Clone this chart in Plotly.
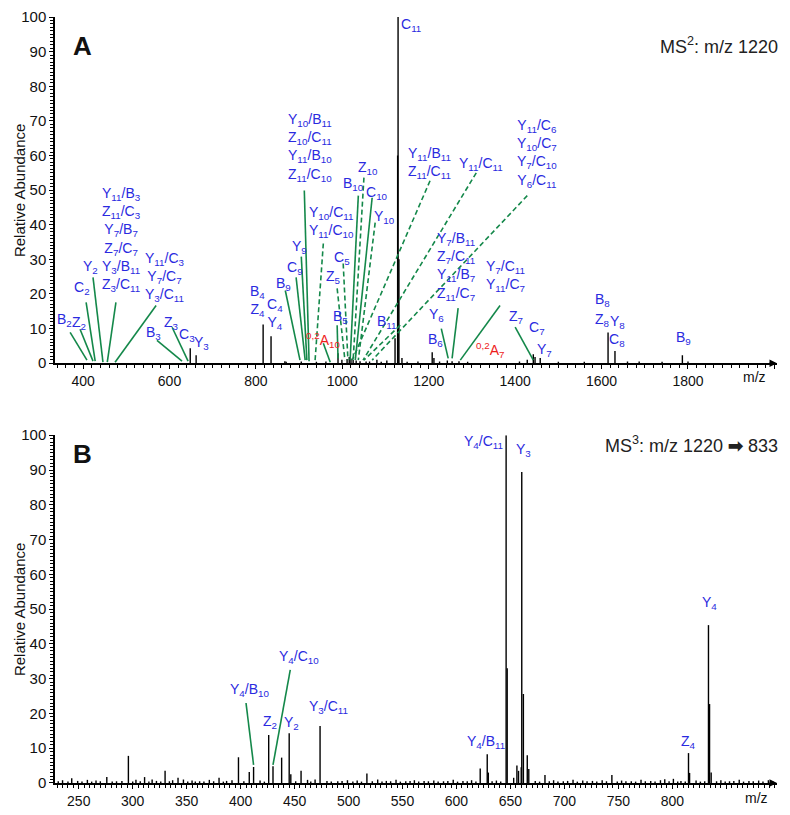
import plotly.graph_objects as go

# ---------------- data ----------------
# Panel A: MS2 of m/z 1220  (m/z, relative abundance)
ms2_mz = [648, 661.6, 816.7, 835, 867, 905, 990, 999, 1011, 1016, 1020, 1025, 1032, 1041, 1055,
          1080, 1103, 1122, 1128, 1129, 1131, 1138, 1208, 1212, 1243, 1254, 1270, 1428, 1442,
          1446, 1458, 1615, 1631, 1687, 1787, 1800]
ms2_int = [4.3, 2.3, 11.2, 7.8, 0.6, 0.5, 2.9, 1.0, 1.2, 1.8, 1.4, 1.0, 0.8, 0.6, 0.5,
           1.0, 0.8, 7.2, 60, 100, 30, 1.5, 3.2, 1.5, 0.8, 0.6, 0.6, 1.0, 2.6,
           1.8, 1.5, 8.9, 3.5, 0.5, 2.3, 0.5]

# Panel B: MS3 of m/z 1220 -> 833
ms3_mz = [243.5, 276, 296, 311, 318, 330, 342, 347, 380, 398, 408, 412, 426, 430, 438, 445,
          446.5, 456, 469, 473.6, 517, 527, 622, 628.5, 629.5, 646, 647, 653, 656, 657.5, 660,
          660.5, 662, 665.6, 667, 682, 744, 801, 815, 816, 833.5, 834.5, 836]
ms3_int = [1.4, 1.7, 7.8, 1.7, 1.0, 3.5, 1.5, 1.0, 1.5, 7.4, 3.2, 4.6, 13.8, 4.8, 7.3, 14.3,
           2.5, 3.5, 1.0, 16.4, 2.7, 1.0, 4.2, 8.3, 3.0, 100, 33, 1.5, 5.0, 3.5, 4.5,
           89.4, 25.6, 8.0, 4.0, 2.3, 2.3, 1.2, 8.6, 2.9, 45.4, 22.7, 3.0]

ms3_noise = [(231, 0.5), (235, 0.8), (240, 0.4), (249, 0.6), (253, 0.4), (258, 0.9), (262, 0.4),
             (266, 0.7), (270, 0.5), (281, 0.4), (285, 0.5), (290, 0.6), (300, 0.4), (303, 0.9),
             (307, 0.5), (315, 0.4), (322, 0.6), (326, 0.4), (334, 0.5), (337, 0.8), (351, 0.4),
             (355, 0.7), (358, 0.4), (362, 0.5), (366, 0.4), (371, 0.9), (375, 0.5), (384, 0.4),
             (387, 0.6), (392, 0.8), (403, 0.5), (418, 0.7), (422, 0.4), (451, 0.5), (462, 0.9),
             (465, 0.4), (480, 0.6), (484, 0.4), (490, 0.5), (494, 0.6), (499, 0.8), (504, 0.4),
             (508, 0.7), (512, 0.4), (522, 0.5), (531, 0.4), (535, 0.6), (539, 0.5), (544, 0.9),
             (548, 0.4), (553, 0.5), (557, 0.6), (561, 0.8), (565, 0.4), (570, 0.6), (574, 0.5),
             (579, 0.7), (583, 0.4), (588, 0.5), (592, 0.6), (597, 0.9), (601, 0.4), (606, 0.6),
             (610, 0.5), (614, 0.8), (618, 0.4), (633, 0.5), (637, 0.7), (641, 0.4), (673, 0.6),
             (677, 0.4), (686, 0.5), (690, 0.8), (694, 0.4), (699, 0.5), (703, 0.6), (708, 0.9),
             (712, 0.4), (717, 0.7), (721, 0.5), (726, 0.6), (730, 0.4), (735, 0.8), (739, 0.5),
             (749, 0.4), (753, 0.7), (757, 0.5), (762, 0.5), (766, 0.4), (771, 0.9), (775, 0.5),
             (780, 0.6), (784, 0.4), (789, 0.8), (793, 1.1), (797, 0.5), (805, 0.4), (808, 0.6),
             (812, 0.4), (822, 0.7), (826, 0.4), (830, 0.5), (841, 0.5), (845, 0.8), (849, 0.4),
             (853, 0.5), (857, 0.6), (862, 0.9), (866, 0.4), (871, 0.6), (875, 0.5), (880, 0.7),
             (884, 0.4), (889, 0.8), (893, 0.5)]
ms2_noise = [(870, 0.4), (940, 0.4), (962, 0.5), (1063, 0.5), (1090, 0.4), (1150, 0.4),
             (1175, 0.5), (1225, 0.5), (1290, 0.4), (1410, 0.5), (1500, 0.4), (1560, 0.4),
             (1660, 0.5), (1740, 0.4)]

# ---------------- styles ----------------
BLUE = "#2a2ae0"
GREEN = "#14884a"
RED = "#ee1c1c"
FONT = "Liberation Sans, Arial, sans-serif"


def sticks(mz, inten):
    xs, ys = [], []
    for m, h in zip(mz, inten):
        xs += [m, m, None]
        ys += [0, h, None]
    return xs, ys


fig = go.Figure()
for (mz, it, xa, ya) in [
    (ms2_mz + [p[0] for p in ms2_noise], ms2_int + [p[1] for p in ms2_noise], "x", "y"),
    (ms3_mz + [p[0] for p in ms3_noise], ms3_int + [p[1] for p in ms3_noise], "x2", "y2"),
]:
    xs, ys = sticks(mz, it)
    fig.add_trace(go.Scatter(x=xs, y=ys, mode="lines", xaxis=xa, yaxis=ya,
                             line=dict(color="black", width=1.4), hoverinfo="skip"))

# ---------------- ion labels ----------------
S = lambda a, b: f"{a}<sub>{b}</sub>"
def P(*pairs):
    return "/".join(S(a, b) for a, b in pairs)

labels_A = [
    (S("B", 2), 358, 12.4), (S("Z", 2), 391, 11.5), (S("C", 2), 398, 21.6), (S("Y", 2), 418, 27.7),
    ("<br>".join([P(("Y", 11), ("B", 3)), P(("Z", 11), ("C", 3)), P(("Y", 7), ("B", 7)),
                  P(("Z", 7), ("C", 7)), P(("Y", 3), ("B", 11)), P(("Z", 3), ("C", 11))]), 490, 35.7),
    ("<br>".join([P(("Y", 11), ("C", 3)), P(("Y", 7), ("C", 7)), P(("Y", 3), ("C", 11))]), 590, 24.8),
    (S("B", 3), 564, 8.6), (S("Z", 3), 604, 11.5), (S("C", 3), 641, 8.1), (S("Y", 3), 675, 5.8),
    (S("B", 4) + "<br>" + S("Z", 4), 803, 17.9), (S("C", 4) + "<br>" + S("Y", 4), 844, 14.1),
    (S("B", 9), 863, 23), (S("C", 9), 891, 27.4), (S("Y", 9), 900, 33.7),
    ("<br>".join([P(("Y", 10), ("B", 11)), P(("Z", 10), ("C", 11)), P(("Y", 11), ("B", 10)),
                  P(("Z", 11), ("C", 10))]), 925, 62.4),
    (P(("Y", 10), ("C", 11)) + "<br>" + P(("Y", 11), ("C", 10)), 974, 40.9),
    (S("C", 5), 999.5, 30.3), (S("Z", 5), 979, 24.8), (S("B", 5), 995, 13.3),
    (S("B", 10), 1025, 51.9), (S("Z", 10), 1060, 56.5), (S("C", 10), 1081, 49.3),
    (S("Y", 10), 1097, 42.1), (S("B", 11), 1104, 11.8),
    (P(("Y", 11), ("B", 11)) + "<br>" + P(("Z", 11), ("C", 11)), 1201, 57.9),
    (P(("Y", 11), ("C", 11)), 1321, 57.6),
    ("<br>".join([P(("Y", 11), ("C", 6)), P(("Y", 10), ("C", 7)), P(("Y", 7), ("C", 10)),
                  P(("Y", 6), ("C", 11))]), 1451, 60.7),
    ("<br>".join([P(("Y", 7), ("B", 11)), P(("Z", 7), ("C", 11)), P(("Y", 11), ("B", 7)),
                  P(("Z", 11), ("C", 7))]), 1263, 28),
    (P(("Y", 7), ("C", 11)) + "<br>" + P(("Y", 11), ("C", 7)), 1377, 25.1),
    (S("Y", 6), 1219, 13.8), (S("B", 6), 1215, 6.6), (S("Z", 7), 1402, 13.3),
    (S("C", 7), 1451, 10.1), (S("Y", 7), 1469, 3.7), (S("B", 8), 1601, 18.2),
    (S("Z", 8), 1601, 12.4), (S("Y", 8), 1636, 11.8), (S("C", 8), 1636, 6.6), (S("B", 9), 1789, 7.2),
    (S("C", 11), 1159, 97.6),
]
red_A = [("<sup>0,2</sup>A<sub>10</sub>", 956, 6.6), ("<sup>0,2</sup>A<sub>7</sub>", 1342, 3.7)]

labels_B = [
    (P(("Y", 4), ("B", 10)), 408, 26.7), (P(("Y", 4), ("C", 10)), 454, 36.2),
    (S("Z", 2), 427, 17.5), (S("Y", 2), 447, 17.2), (P(("Y", 3), ("C", 11)), 481, 21.8),
    (P(("Y", 4), ("C", 11)), 625, 98), (S("Y", 3), 662, 95.7), (S("Y", 4), 834, 51.7),
    (P(("Y", 4), ("B", 11)), 627.5, 11.8), (S("Z", 4), 815, 11.8),
]

# connector lines (x0, y0, x1, y1, dashed)
lines_A = [
    (370, 8.9, 409, 0.9, 0), (393, 9.8, 423, 0.6, 0), (407, 17.6, 428, 0.6, 0),
    (423, 24.8, 446, 0.3, 0), (476, 17.6, 456, 0.3, 0), (569, 16.7, 474, 0.3, 0),
    (571, 6.6, 629, 0.6, 0), (606, 10.4, 643, 0.6, 0),
    (868, 21, 902, 0.9, 0), (893, 24.8, 914, 0.9, 0), (905, 30.8, 918, 0.9, 0),
    (912, 49.9, 923, 0.6, 0), (956, 34.6, 937, 0.9, 1), (956, 5.8, 972, 0.3, 0),
    (1002, 28.8, 1013, 0.9, 1), (988, 21.6, 1006, 0.9, 1), (988, 11, 990, 1.4, 0),
    (1037, 48.4, 1018, 0.9, 0), (1050, 53.6, 1025, 0.9, 1), (1069, 47.8, 1030, 0.9, 0),
    (1076, 40.6, 1037, 0.9, 1), (1134, 11, 1050, 0.9, 1),
    (1203, 52.7, 1023, 0.9, 1), (1310, 55, 1048, 0.9, 1), (1428, 48.4, 1069, 0.9, 1),
    (1229, 10, 1245, 1.4, 0), (1268, 15.9, 1254, 1.4, 0), (1365, 16.7, 1273, 0.9, 0),
    (1400, 10.4, 1442, 0.9, 0),
]
lines_B = [(405, 23, 412, 5.2, 0), (446, 32.5, 430, 5.2, 0)]

ann = []
for txt, x, y in labels_A:
    ann.append(dict(text=txt, x=x, y=y, xref="x", yref="y", font=dict(color=BLUE, size=14, family=FONT)))
for txt, x, y in red_A:
    ann.append(dict(text=txt, x=x, y=y, xref="x", yref="y", font=dict(color=RED, size=14, family=FONT)))
for txt, x, y in labels_B:
    ann.append(dict(text=txt, x=x, y=y, xref="x2", yref="y2", font=dict(color=BLUE, size=14, family=FONT)))

shapes = []
for (ls, xr, yr) in [(lines_A, "x", "y"), (lines_B, "x2", "y2")]:
    for x0, y0, x1, y1, d in ls:
        shapes.append(dict(type="line", xref=xr, yref=yr, x0=x0, y0=y0, x1=x1, y1=y1,
                           line=dict(color=GREEN, width=1.6, dash="5px,3px" if d else "solid")))

# panel texts
ann += [
    dict(text="<b>A</b>", x=0.0374, y=0.962, xref="paper", yref="paper",
         font=dict(size=26, color="#111", family=FONT)),
    dict(text="<b>B</b>", x=0.0374, y=0.4295, xref="paper", yref="paper",
         font=dict(size=26, color="#111", family=FONT)),
    dict(text="MS<sup>2</sup>: m/z 1220", x=1.004, y=0.963, xref="paper", yref="paper",
         xanchor="right", font=dict(size=18, color="#222", family=FONT)),
    dict(text="MS<sup>3</sup>: m/z 1220 <b>➡</b> 833", x=1.004, y=0.4415, xref="paper", yref="paper",
         xanchor="right", font=dict(size=18, color="#222", family=FONT)),
    dict(text="m/z", x=0.9695, y=0.530, xref="paper", yref="paper",
         font=dict(size=14, color="#111", family=FONT)),
    dict(text="m/z", x=0.971, y=-0.0196, xref="paper", yref="paper",
         font=dict(size=14, color="#111", family=FONT)),
    dict(text="Relative Abundance", x=-0.0499, y=0.774, xref="paper", yref="paper",
         textangle=-90, font=dict(size=15, color="#111", family=FONT)),
    dict(text="Relative Abundance", x=-0.0499, y=0.227, xref="paper", yref="paper",
         textangle=-90, font=dict(size=15, color="#111", family=FONT)),
]
for a in ann:
    a.setdefault("xanchor", "center")
    a.update(showarrow=False, yanchor="middle")

# small arrowheads at the right end of the m/z axes
for xr, yr, xe in [("x", "y", 2006), ("x2", "y2", 897)]:
    ann.append(dict(x=xe, y=0, xref=xr, yref=yr, ax=-9, ay=0, axref="pixel", ayref="pixel",
                    showarrow=True, arrowhead=2, arrowsize=1, arrowwidth=1.5, arrowcolor="black",
                    text=""))

xcommon = dict(showline=True, linecolor="black", linewidth=1.5, showgrid=False, zeroline=False,
               ticks="outside", ticklen=4, tickwidth=1.2, tickcolor="black", automargin=False,
               tickfont=dict(size=14, color="#111", family=FONT), tickmode="linear")
ycommon = dict(showline=True, linecolor="black", linewidth=1.5, showgrid=False, zeroline=False,
               ticks="outside", ticklen=4, tickwidth=1.2, tickcolor="black", range=[0, 100],
               tickmode="linear", tick0=0, dtick=10, automargin=False,
               minor=dict(tickmode="linear", tick0=0, dtick=1, ticklen=3, ticks="outside",
                          tickcolor="black", tickwidth=1, showgrid=False),
               tickfont=dict(size=15, color="#111", family=FONT))

# page body has an 8px margin: the figure is offset by (8, 8) on screen
fig.update_layout(
    width=782, height=807, showlegend=False,
    margin=dict(l=47, r=13, t=9, b=32, autoexpand=False),
    plot_bgcolor="white", paper_bgcolor="white",
    xaxis=dict(xcommon, domain=[0, 1], range=[335, 2006], anchor="y", tick0=400, dtick=200,
               labelalias={"2000": " "},
               minor=dict(tickmode="linear", tick0=0, dtick=20, ticklen=3, ticks="outside",
                          tickcolor="black", tickwidth=1, showgrid=False)),
    yaxis=dict(ycommon, domain=[0.548, 1], anchor="x"),
    xaxis2=dict(xcommon, domain=[0, 1], range=[228, 897], anchor="y2", tick0=250, dtick=50,
                labelalias={"850": " "},
                minor=dict(tickmode="linear", tick0=0, dtick=5, ticklen=3, ticks="outside",
                           tickcolor="black", tickwidth=1, showgrid=False)),
    yaxis2=dict(ycommon, domain=[0, 0.454], anchor="x2"),
    annotations=ann, shapes=shapes,
)

fig.write_html("out.html")
